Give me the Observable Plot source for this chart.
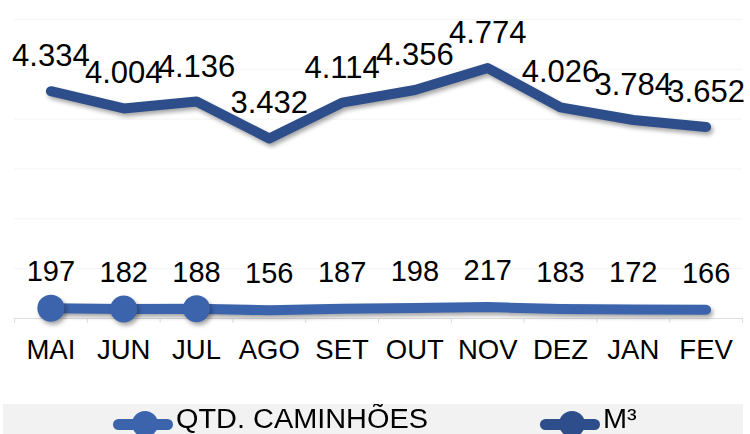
<!DOCTYPE html>
<html><head><meta charset="utf-8">
<script src="https://cdn.jsdelivr.net/npm/d3@7"></script>
<script src="https://cdn.jsdelivr.net/npm/@observablehq/plot@0.6"></script>
<style>
html,body{margin:0;padding:0;background:#fff;overflow:hidden;width:750px;height:434px;font-family:"Liberation Sans",Arial,sans-serif}
#chart{position:absolute;left:0;top:0}
#chart svg{display:block;overflow:visible}
.shadow path,.shadow circle{filter:drop-shadow(2px 3px 2px rgba(0,0,0,0.35))}
#legend{position:absolute;left:3px;top:404px;width:740px;height:30px;background:#f2f2f2;overflow:hidden}
#legend .ln{position:absolute;height:11px;border-radius:6px;top:14.5px;width:60px}
#legend .dt{position:absolute;width:26px;height:26px;border-radius:50%;top:7px}
#legend .tx{position:absolute;top:2px;font-size:27px;line-height:27px;color:#000;transform:scaleX(1.07);transform-origin:left center;white-space:nowrap}
</style>
</head><body>
<div id="chart"></div>
<div id="legend"></div>
<script>
const months = ["MAI","JUN","JUL","AGO","SET","OUT","NOV","DEZ","JAN","FEV"];
const m3 = [4334, 4004, 4136, 3432, 4114, 4356, 4774, 4026, 3784, 3652];
const qtd = [197, 182, 188, 156, 187, 198, 217, 183, 172, 166];
const markedMonths = ["MAI","JUN","JUL"];
const seriesNames = ["QTD. CAMINHÕES", "M³"];
const gridTicks = d3.range(0, 5701, 950);

const colQtd = "#3c64ad";
const colM3 = "#2d4e8a";

const fmt = d3.formatLocale({decimal:",", thousands:".", grouping:[3], currency:["R$",""]}).format(",d");
const rows = months.map((m, i) => ({i, month: m, m3: m3[i], qtd: qtd[i]}));

const plot = Plot.plot({
  width: 750, height: 404,
  marginTop: 19, marginBottom: 86, marginLeft: 14, marginRight: 8,
  style: {fontFamily: '"Liberation Sans", Arial, sans-serif', background: "transparent", color: "#000"},
  x: {type: "linear", domain: [-0.5, 9.5], label: null},
  y: {domain: [0, 5700], axis: null, label: null},
  marks: [
    Plot.ruleY(gridTicks, {stroke: "#f4f4f4", strokeWidth: 1}),
    Plot.ruleY([0], {stroke: "#dedede", strokeWidth: 1}),
    Plot.axisX(d3.range(-0.5, 10, 1), {tickSize: 5, tickFormat: () => "", stroke: "#dedede", label: null}),
    Plot.axisX(d3.range(0, 10), {tickSize: 0, tickPadding: 20.5, tickFormat: i => months[i], fontSize: 27.5, fill: "#000", label: null}),
    Plot.line(rows, {x: "i", y: "m3", stroke: colM3, strokeWidth: 10, className: "shadow"}),
    Plot.line(rows, {x: "i", y: "qtd", stroke: colQtd, strokeWidth: 10, className: "shadow"}),
    Plot.dot(rows.filter(d => markedMonths.includes(d.month)), {x: "i", y: "qtd", r: 13.5, fill: colQtd, className: "shadow"}),
    Plot.text(rows, {x: "i", y: "m3", text: d => fmt(d.m3), dy: -25, lineAnchor: "bottom", fontSize: 31, fill: "#000"}),
    Plot.text(rows, {x: "i", y: "qtd", text: d => fmt(d.qtd), dy: -27, lineAnchor: "bottom", fontSize: 29, fill: "#000"})
  ]
});
document.getElementById("chart").appendChild(plot);

// legend
const legend = d3.select("#legend");
const items = [
  {name: seriesNames[0], color: colQtd, x: 110},
  {name: seriesNames[1], color: colM3, x: 537}
];
items.forEach(it => {
  legend.append("div").attr("class", "ln").style("left", it.x + "px").style("background", it.color);
  legend.append("div").attr("class", "dt").style("left", (it.x + 32 - 13) + "px").style("background", it.color);
  legend.append("div").attr("class", "tx").style("left", (it.x + 63) + "px").text(it.name);
});
</script>
</body></html>
